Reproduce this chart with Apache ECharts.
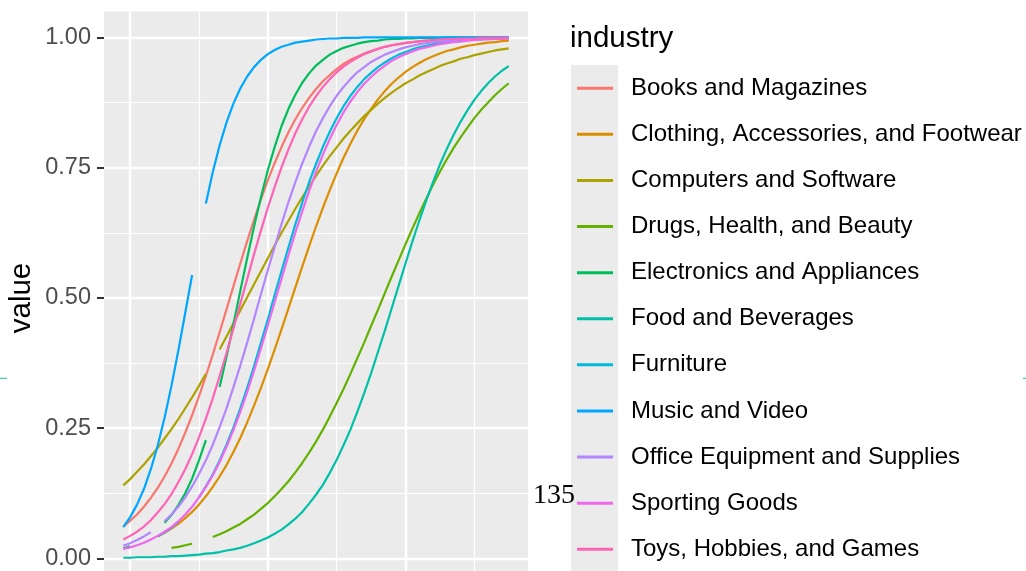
<!DOCTYPE html>
<html><head><meta charset="utf-8">
<script src="https://cdn.jsdelivr.net/npm/echarts@6/dist/echarts.min.js"></script>
<style>html,body{margin:0;padding:0;background:#fff}#c{width:1026px;height:571px}</style>
</head><body><div id="c"></div>
<script>
const industries = ['Books and Magazines','Clothing, Accessories, and Footwear','Computers and Software','Drugs, Health, and Beauty','Electronics and Appliances','Food and Beverages','Furniture','Music and Video','Office Equipment and Supplies','Sporting Goods','Toys, Hobbies, and Games'];
const colors = ['#F8766D','#DB8E00','#AEA200','#64B200','#00BD5C','#00C1A7','#00BADE','#00A6FF','#B385FF','#EF67EB','#FF63B6'];
const xs = [-0.5,0,0.5,1,1.5,2,2.5,3,3.5,4, 4.5,5,5.5,6,6.5,7,7.5,8,8.5,9, 9.5,10,10.5,11,11.5,12,12.5,13,13.5,14, 14.5,15,15.5,16,16.5,17,17.5,18,18.5,19, 19.5,20,20.5,21,21.5,22,22.5,23,23.5,24, 24.5,25,25.5,26,26.5,27,27.5];
const books = [0.061,0.072,0.084,0.099,0.116,0.135,0.157,0.182,0.210,0.241, 0.275,0.311,0.350,0.391,0.434,0.478,0.522,0.566,0.609,0.650, 0.689,0.726,0.759,0.790,0.818,0.843,0.865,0.884,0.901,0.916, 0.928,0.939,0.949,0.957,0.963,0.969,0.974,0.978,0.982,0.985, 0.987,0.989,0.991,0.992,0.994,0.995,0.996,0.996,0.997,0.997, 0.998,0.998,0.998,0.999,0.999,0.999,0.999];
const clothing = [null,null,null,null,null,0.042,0.049,0.057,0.066,0.077, 0.089,0.103,0.119,0.137,0.157,0.179,0.204,0.231,0.261,0.293, 0.327,0.363,0.401,0.440,0.480,0.520,0.560,0.599,0.637,0.673, 0.707,0.739,0.769,0.796,0.821,0.843,0.863,0.881,0.897,0.911, 0.923,0.934,0.943,0.951,0.958,0.964,0.969,0.974,0.977,0.981, 0.984,0.986,0.988,0.990,0.991,0.993,0.994];
const computers = [0.140,0.152,0.166,0.180,0.196,0.212,0.230,0.248,0.267,0.288, 0.309,0.331,0.354,null,0.401,0.426,0.451,0.476,0.501,0.526, 0.551,0.576,0.601,0.625,0.648,0.671,0.693,0.714,0.734,0.754, 0.772,0.789,0.806,0.821,0.835,0.849,0.861,0.873,0.884,0.894, 0.903,0.912,0.919,0.927,0.933,0.939,0.945,0.950,0.954,0.959, 0.962,0.966,0.969,0.972,0.975,0.977,0.979];
const drugs = [null,null,null,null,null,null,null,0.020,0.022,0.025, 0.028,null,null,0.041,0.046,0.052,0.059,0.066,0.075,0.084, 0.095,0.106,0.119,0.133,0.148,0.165,0.183,0.203,0.224,0.247, 0.272,0.298,0.325,0.354,0.384,0.414,0.446,0.477,0.509,0.541, 0.572,0.603,0.633,0.662,0.690,0.717,0.742,0.766,0.788,0.808, 0.827,0.845,0.861,0.875,0.889,0.901,0.912];
const electronics = [0.019,0.023,null,null,null,null,0.068,0.083,0.102,0.125, 0.153,0.188,0.227,null,0.329,0.387,0.449,0.513,0.576,0.637, 0.693,0.745,0.790,0.830,0.863,0.890,0.913,0.931,0.946,0.957, 0.967,0.974,0.980,0.984,0.988,0.991,0.993,0.994,0.996,0.997, 0.997,0.998,0.998,0.999,0.999,0.999,0.999,1.000,1.000,1.000, 1.000,1.000,1.000,1.000,1.000,1.000,1.000];
const food = [0.001,0.001,0.002,0.002,0.002,0.003,0.003,0.004,0.004,0.005, 0.006,0.007,0.009,0.010,0.012,0.015,0.017,0.020,0.024,0.029, 0.034,0.040,0.047,0.055,0.065,0.076,0.089,0.105,0.122,0.141, 0.164,0.189,0.217,0.247,0.281,0.317,0.355,0.396,0.437,0.480, 0.523,0.566,0.608,0.648,0.686,0.722,0.756,0.786,0.813,0.838, 0.860,0.880,0.897,0.912,0.925,0.936,0.945];
const furniture = [null,null,null,null,null,0.042,0.050,0.059,0.070,null, null,0.117,0.138,0.161,0.188,0.218,0.251,0.288,0.327,0.369, 0.414,0.459,0.506,0.552,0.597,0.641,0.683,0.722,0.757,0.790, 0.819,0.845,0.868,0.888,0.905,0.920,0.932,0.943,0.952,0.960, 0.967,0.972,0.977,0.981,0.984,0.987,0.989,0.991,0.992,0.994, 0.995,0.996,0.996,0.997,0.998,0.998,0.998];
const music = [0.060,0.079,0.103,0.133,0.171,0.216,0.270,0.331,0.399,0.471, 0.544,null,0.681,0.741,0.793,0.837,0.873,0.902,0.925,0.943, 0.957,0.968,0.976,0.982,0.986,0.990,0.992,0.994,0.996,0.997, 0.998,0.998,0.999,0.999,0.999,1.000,1.000,1.000,1.000,1.000, 1.000,1.000,1.000,1.000,1.000,1.000,1.000,1.000,1.000,1.000, 1.000,1.000,1.000,1.000,1.000,1.000,1.000];
const office = [0.024,0.029,0.035,0.042,0.050,null,0.071,0.084,0.099,0.117, 0.138,0.162,0.188,0.218,0.252,0.288,0.328,0.370,0.414,0.460, 0.507,0.553,0.598,0.642,0.684,0.722,0.758,0.790,0.820,0.845, 0.868,0.888,0.905,0.920,0.933,0.943,0.953,0.960,0.967,0.972, 0.977,0.981,0.984,0.987,0.989,0.991,0.992,0.994,0.995,0.996, 0.996,0.997,0.998,0.998,0.998,0.999,0.999];
const sporting = [0.018,0.021,0.025,0.030,0.036,0.043,0.051,0.060,0.071,0.084, 0.099,0.117,0.137,0.159,0.185,0.214,0.246,0.281,0.319,0.360, 0.403,0.447,0.492,0.537,0.582,0.625,0.666,0.705,0.742,0.775, 0.805,0.832,0.856,0.877,0.895,0.911,0.924,0.936,0.946,0.955, 0.962,0.968,0.973,0.978,0.981,0.984,0.987,0.989,0.991,0.992, 0.994,0.995,0.996,0.996,0.997,0.997,0.998];
const toys = [0.036,0.043,0.051,0.061,0.073,0.088,0.104,0.123,0.146,0.171, 0.200,0.232,0.268,0.307,0.350,0.394,0.441,0.489,0.536,0.584, 0.629,0.673,0.713,0.751,0.785,0.816,0.843,0.867,0.887,0.905, 0.920,0.933,0.944,0.953,0.961,0.968,0.973,0.978,0.982,0.985, 0.987,0.990,0.991,0.993,0.994,0.995,0.996,0.997,0.997,0.998, 0.998,0.998,0.999,0.999,0.999,0.999,0.999];
const yTicks = [0, 0.25, 0.5, 0.75, 1];
const yMinorTicks = [0.125, 0.375, 0.625, 0.875];
const xMajorTicks = [0, 10, 20];
const xMinorTicks = [5, 15, 25];

const seriesValues = [books, clothing, computers, drugs, electronics, food, furniture, music, office, sporting, toys];
const FONT = "'Liberation Sans', Arial, Helvetica, sans-serif";
const chart = echarts.init(document.getElementById('c'), null, {renderer: 'canvas'});
const X_MIN = -1.9, X_MAX = 28.9, Y_MIN = -0.0244, Y_MAX = 1.0498;
const gridLine = (w) => ({show: true, lineStyle: {color: '#FFFFFF', width: w}});
const noLine = {show: false, onZero: false};
chart.setOption({
  animation: false,
  backgroundColor: '#FFFFFF',
  grid: {left: 104, top: 11.5, width: 424, height: 559.5, show: true, backgroundColor: '#EBEBEB', borderWidth: 0, containLabel: false},
  xAxis: [
    {type: 'value', min: X_MIN, max: X_MAX, axisLine: noLine, axisLabel: {show: false},
     axisTick: {show: false, customValues: xMajorTicks}, splitLine: Object.assign(gridLine(2.4), {customValues: xMajorTicks})},
    {type: 'value', min: X_MIN, max: X_MAX, axisLine: noLine, axisLabel: {show: false},
     axisTick: {show: false, customValues: xMinorTicks}, splitLine: Object.assign(gridLine(1.2), {customValues: xMinorTicks})}
  ],
  yAxis: [
    {type: 'value', min: Y_MIN, max: Y_MAX, axisLine: noLine,
     axisTick: {show: true, length: 7, customValues: yTicks, lineStyle: {color: '#333333', width: 2}},
     axisLabel: {show: true, customValues: yTicks, formatter: v => v.toFixed(2), color: '#4D4D4D', fontSize: 23.5, fontFamily: FONT, margin: 13},
     splitLine: Object.assign(gridLine(2.4), {customValues: yTicks})},
    {type: 'value', position: 'left', min: Y_MIN, max: Y_MAX, axisLine: noLine, axisLabel: {show: false},
     axisTick: {show: false, customValues: yMinorTicks}, splitLine: Object.assign(gridLine(1.2), {customValues: yMinorTicks})}
  ],
  legend: {
    orient: 'vertical', left: 577, top: 73.25, padding: 0, itemGap: 16.1,
    icon: 'rect', itemWidth: 36, itemHeight: 3, selectedMode: false,
    textStyle: {fontSize: 24, fontFamily: FONT, color: '#000000', lineHeight: 30, padding: [0, 0, 0, 13]},
    data: industries
  },
  graphic: [
    {type: 'rect', left: 571, top: 65, shape: {width: 47, height: 520}, style: {fill: '#EBEBEB'}, z: 1, silent: true},
    {type: 'text', x: 570, y: 39, style: {text: 'industry', fontSize: 29.5, fontFamily: FONT, fill: '#000000', align: 'left', verticalAlign: 'middle'}, z: 10},
    {type: 'text', x: 22, y: 298, rotation: Math.PI / 2, style: {text: 'value', fontSize: 29.5, fontFamily: FONT, fill: '#000000', align: 'center', verticalAlign: 'middle'}, z: 10},
    {type: 'text', x: 575, y: 496, style: {text: '135', fontSize: 28, fontFamily: "'Liberation Serif', 'DejaVu Serif', serif", fill: '#000000', align: 'right', verticalAlign: 'middle'}, z: 10},
    {type: 'line', shape: {x1: 0, y1: 378.3, x2: 7, y2: 378.3}, style: {stroke: '#1DBF9C', lineWidth: 1}, z: 10},
    {type: 'line', shape: {x1: 1023, y1: 378.3, x2: 1026, y2: 378.3}, style: {stroke: '#1DBF9C', lineWidth: 1}, z: 10}
  ],
  series: industries.map((name, k) => ({
    type: 'line', name: name, xAxisIndex: 0, yAxisIndex: 0,
    data: xs.map((x, i) => [x, seriesValues[k][i]]),
    showSymbol: false, symbol: 'none', connectNulls: false, silent: true,
    lineStyle: {width: 2.2, color: colors[k]}, itemStyle: {color: colors[k]},
    emphasis: {disabled: true}
  }))
});
</script></body></html>
